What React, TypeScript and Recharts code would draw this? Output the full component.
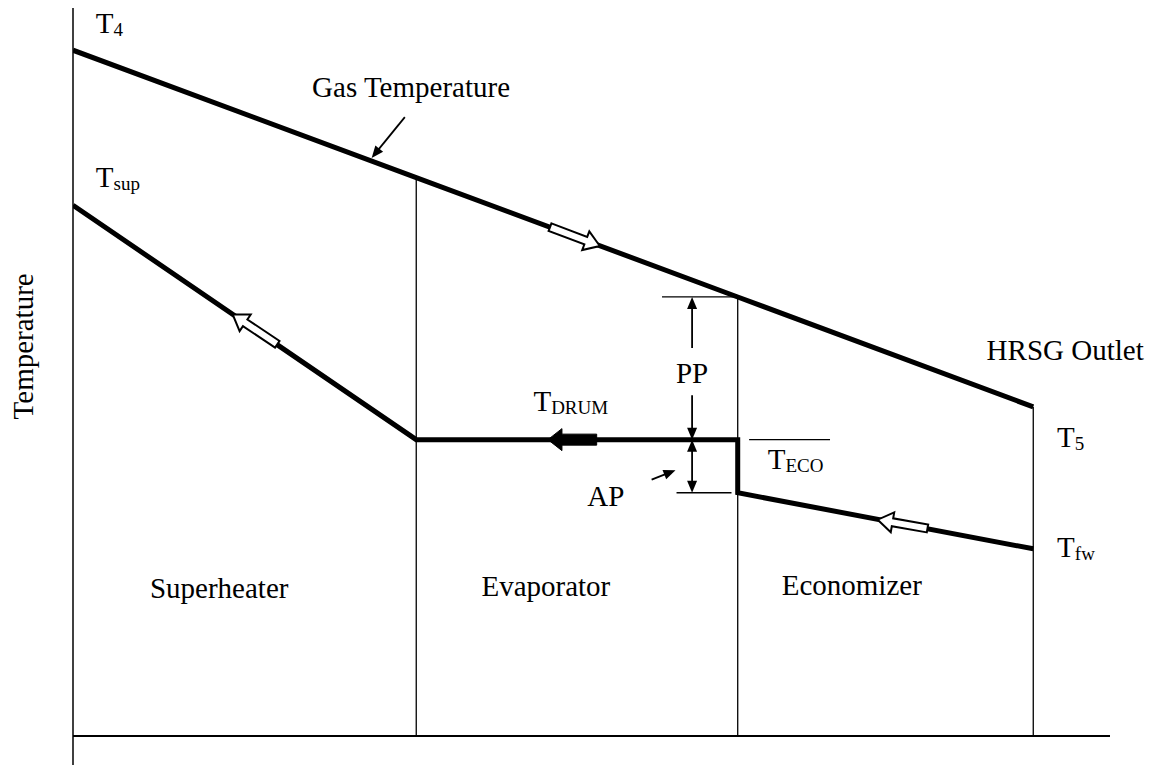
import React from 'react';
import { ComposedChart, Line, XAxis, YAxis, ReferenceLine, ReferenceDot } from 'recharts';

// positions along the HRSG (0 = gas inlet, 100 = end of axis)
const sections = ['Superheater', 'Evaporator', 'Economizer'];
const stationX = [0, 33.1, 64.1, 92.6];
const gasTemps = [94.2, 76.7, 60.3, 45.2];

// water / steam side, read right to left in the picture
const waterX = [0, 33.1, 64.1, 64.1, 92.6];
const waterTemps = [72.9, 40.7, 40.7, 33.4, 25.7];

const gasData = stationX.map((x, i) => ({ x, t: gasTemps[i] }));
const waterData = waterX.map((x, i) => ({ x, t: waterTemps[i] }));

const T_DRUM = waterTemps[1];
const T_ECO = waterTemps[3];
const T_PINCH_GAS = gasTemps[2];

const FONT = '"Liberation Serif", "Times New Roman", serif';

type ArrowOpts = {
  kind: 'hollow' | 'solid' | 'thin';
  both?: boolean;
};

const arrowShape = ({ kind, both }: ArrowOpts) => (p: any) => {
  const { x1, y1, x2, y2 } = p;
  const L = Math.hypot(x2 - x1, y2 - y1);
  const ang = (Math.atan2(y2 - y1, x2 - x1) * 180) / Math.PI;
  const tf = `translate(${x1},${y1}) rotate(${ang})`;
  if (kind === 'hollow') {
    const h = 15;
    const pts = [[0, -4], [L - h, -4], [L - h, -10], [L, 0], [L - h, 10], [L - h, 4], [0, 4]]
      .map((q) => q.join(',')).join(' ');
    return <polygon transform={tf} points={pts} fill="#fff" stroke="#000" strokeWidth={2} />;
  }
  if (kind === 'solid') {
    const h = 14;
    const pts = [[0, -5.5], [L - h, -5.5], [L - h, -11], [L, 0], [L - h, 11], [L - h, 5.5], [0, 5.5]]
      .map((q) => q.join(',')).join(' ');
    return <polygon transform={tf} points={pts} fill="#000" stroke="#000" strokeWidth={1} />;
  }
  const h = 12;
  return (
    <g transform={tf}>
      <line x1={both ? h - 2 : 0} y1={0} x2={L - h + 2} y2={0} stroke="#000" strokeWidth={1.8} />
      <polygon points={`${L - h},-5 ${L},0 ${L - h},5`} fill="#000" />
      {both && <polygon points={`${h},-5 0,0 ${h},5`} fill="#000" />}
    </g>
  );
};

const textShape = (main: string, sub?: string, anchor: 'start' | 'middle' = 'start') => (p: any) => (
  <text x={p.cx} y={p.cy} fontFamily={FONT} fontSize={29} textAnchor={anchor} fill="#000">
    {main}
    {sub && (
      <tspan fontSize={19} dy={3}>
        {sub}
      </tspan>
    )}
  </text>
);

const thin = { stroke: '#000', strokeWidth: 1.3 };

export default function App() {
  return (
    <div style={{ position: 'absolute', left: 0, top: 0, background: '#fff' }}>
      <ComposedChart width={1151} height={765} margin={{ top: 8, right: 41, bottom: 0, left: 0 }}>
        <XAxis dataKey="x" type="number" domain={[0, 100]} allowDataOverflow hide />
        <YAxis
          type="number"
          domain={[-4, 100]}
          allowDataOverflow
          width={73}
          tick={false}
          tickLine={false}
          axisLine={{ stroke: '#000', strokeWidth: 1.5 }}
          label={{
            content: ({ viewBox }: any) => (
              <text
                x={viewBox.x + 33}
                y={viewBox.y + viewBox.height * 0.447}
                transform={`rotate(-90, ${viewBox.x + 33}, ${viewBox.y + viewBox.height * 0.447})`}
                textAnchor="middle"
                fontFamily={FONT}
                fontSize={29}
                fill="#000"
              >
                Temperature
              </text>
            ),
          }}
        />

        {/* base line */}
        <ReferenceLine y={0} stroke="#000" strokeWidth={2} />

        {/* section boundaries */}
        {stationX.slice(1).map((x, i) => (
          <ReferenceLine key={x} segment={[{ x, y: gasTemps[i + 1] }, { x, y: 0 }]} {...thin} />
        ))}

        <Line data={gasData} dataKey="t" type="linear" stroke="#000" strokeWidth={5} dot={false} isAnimationActive={false} />
        <Line data={waterData} dataKey="t" type="linear" stroke="#000" strokeWidth={5} strokeLinejoin="miter" dot={false} isAnimationActive={false} />

        {/* flow direction arrows */}
        <ReferenceLine segment={[{ x: 46.0, y: 69.9 }, { x: 50.8, y: 67.3 }]} shape={arrowShape({ kind: 'hollow' })} />
        <ReferenceLine segment={[{ x: 19.7, y: 53.8 }, { x: 15.4, y: 57.9 }]} shape={arrowShape({ kind: 'hollow' })} />
        <ReferenceLine segment={[{ x: 82.4, y: 28.5 }, { x: 77.6, y: 29.7 }]} shape={arrowShape({ kind: 'hollow' })} />
        <ReferenceLine segment={[{ x: 50.5, y: T_DRUM }, { x: 45.8, y: T_DRUM }]} shape={arrowShape({ kind: 'solid' })} />

        {/* pinch / approach markers */}
        <ReferenceLine segment={[{ x: 56.8, y: T_PINCH_GAS }, { x: 64.1, y: T_PINCH_GAS }]} {...thin} />
        <ReferenceLine segment={[{ x: 58.2, y: T_ECO }, { x: 63.5, y: T_ECO }]} {...thin} />
        <ReferenceLine segment={[{ x: 65.2, y: T_DRUM }, { x: 73.0, y: T_DRUM }]} {...thin} />
        <ReferenceLine segment={[{ x: 59.7, y: 53.3 }, { x: 59.7, y: T_PINCH_GAS }]} shape={arrowShape({ kind: 'thin' })} />
        <ReferenceLine segment={[{ x: 59.7, y: 46.8 }, { x: 59.7, y: T_DRUM }]} shape={arrowShape({ kind: 'thin' })} />
        <ReferenceLine segment={[{ x: 59.7, y: T_DRUM }, { x: 59.7, y: T_ECO }]} shape={arrowShape({ kind: 'thin', both: true })} />
        <ReferenceLine segment={[{ x: 55.8, y: 35.2 }, { x: 58.1, y: 36.5 }]} shape={arrowShape({ kind: 'thin' })} />
        <ReferenceLine segment={[{ x: 32.0, y: 85.0 }, { x: 28.8, y: 79.4 }]} shape={arrowShape({ kind: 'thin' })} />

        {/* labels */}
        <ReferenceDot x={2.2} y={96.6} r={0} ifOverflow="visible" shape={textShape('T', '4')} />
        <ReferenceDot x={2.2} y={75.4} r={0} ifOverflow="visible" shape={textShape('T', 'sup')} />
        <ReferenceDot x={32.6} y={87.8} r={0} ifOverflow="visible" shape={textShape('Gas Temperature', undefined, 'middle')} />
        <ReferenceDot x={88.1} y={51.7} r={0} ifOverflow="visible" shape={textShape('HRSG Outlet')} />
        <ReferenceDot x={94.9} y={39.7} r={0} ifOverflow="visible" shape={textShape('T', '5')} />
        <ReferenceDot x={94.9} y={24.6} r={0} ifOverflow="visible" shape={textShape('T', 'fw')} />
        <ReferenceDot x={44.4} y={44.6} r={0} ifOverflow="visible" shape={textShape('T', 'DRUM')} />
        <ReferenceDot x={67.0} y={36.7} r={0} ifOverflow="visible" shape={textShape('T', 'ECO')} />
        <ReferenceDot x={59.7} y={48.5} r={0} ifOverflow="visible" shape={textShape('PP', undefined, 'middle')} />
        <ReferenceDot x={49.6} y={31.6} r={0} ifOverflow="visible" shape={textShape('AP')} />
        <ReferenceDot x={14.1} y={19.0} r={0} ifOverflow="visible" shape={textShape(sections[0], undefined, 'middle')} />
        <ReferenceDot x={45.6} y={19.2} r={0} ifOverflow="visible" shape={textShape(sections[1], undefined, 'middle')} />
        <ReferenceDot x={75.1} y={19.4} r={0} ifOverflow="visible" shape={textShape(sections[2], undefined, 'middle')} />
      </ComposedChart>
    </div>
  );
}
